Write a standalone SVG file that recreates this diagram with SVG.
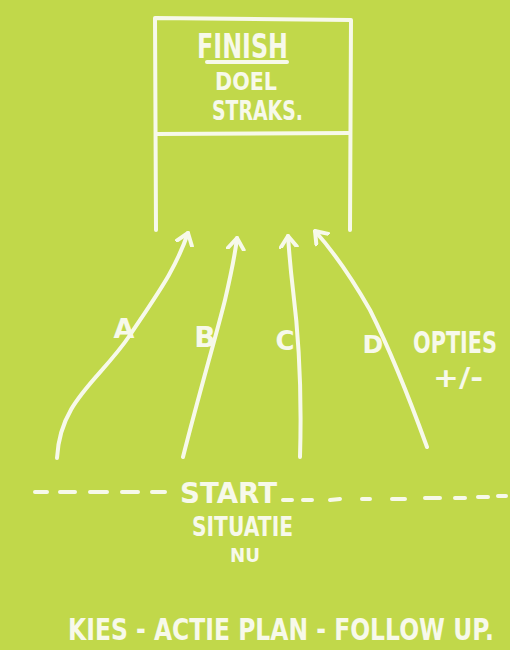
<svg xmlns="http://www.w3.org/2000/svg" width="510" height="650" viewBox="0 0 510 650">
<style>
.ln{fill:none;stroke:#f7f9ea;stroke-width:4;stroke-linecap:round;stroke-linejoin:round}
.t{fill:#f7f9ea;font-family:"DejaVu Sans","Liberation Sans",sans-serif;font-weight:bold}
</style>
<defs>
<marker id="ah" viewBox="-12 -10 14 20" refX="0" refY="0" markerWidth="14" markerHeight="20" markerUnits="userSpaceOnUse" orient="auto">
<path d="M-11,-8 L0,0 L-11,8" fill="none" stroke="#f7f9ea" stroke-width="4" stroke-linecap="round" stroke-linejoin="round"/>
</marker>
</defs>
<rect width="510" height="650" fill="#c1d84a"/>
<g id="finish">
<path class="ln" d="M156,230 L155,18 L351,20 L350,230"/>
<path class="ln" d="M156,134 L350,133"/>
<text class="t" x="197" y="58" font-size="34" textLength="91" lengthAdjust="spacingAndGlyphs">FINISH</text>
<path class="ln" d="M207,62 L287,62"/>
<text class="t" x="215" y="90" font-size="24" textLength="62" lengthAdjust="spacingAndGlyphs">DOEL</text>
<text class="t" x="212" y="120" font-size="26" textLength="91" lengthAdjust="spacingAndGlyphs">STRAKS.</text>
</g>
<g id="connectors">
<path class="ln" marker-end="url(#ah)" d="M57,458 C60,400 100,380 130,335 C160,290 175,270 188,233"/>
<path class="ln" marker-end="url(#ah)" d="M183,457 C200,390 215,340 225,300 C232,270 235,255 237,238"/>
<path class="ln" marker-end="url(#ah)" d="M300,457 C302,390 298,330 293,290 C290,265 289,250 288,236"/>
<path class="ln" marker-end="url(#ah)" d="M427,447 C410,400 390,350 370,310 C350,275 332,250 315,231"/>
</g>
<g id="labels">
<text class="t" x="124" y="338" font-size="27" text-anchor="middle">A</text>
<text class="t" x="205" y="347" font-size="28" text-anchor="middle">B</text>
<text class="t" x="285" y="350" font-size="26" text-anchor="middle">C</text>
<text class="t" x="373" y="353" font-size="25" text-anchor="middle">D</text>
<text class="t" transform="translate(413,353) scale(0.7,1)" x="0" y="0" font-size="30" textLength="120" lengthAdjust="spacingAndGlyphs">OPTIES</text>
<text class="t" x="433" y="387" font-size="26" textLength="50" lengthAdjust="spacingAndGlyphs">+/-</text>
</g>
<g id="start">
<path class="ln" stroke-width="3.5" d="M35,492 L47,492 M60,492 L75,492 M90,492 L107,492 M122,492 L138,492 M152,492 L165,492"/>
<path class="ln" stroke-width="3.5" d="M283,500 L292,500 M303,500 L312,500 M330,500 L340,499 M362,499 L370,499 M392,499 L405,499 M425,498 L440,498 M455,498 L465,498 M478,497 L488,497 M498,496 L506,496"/>
<text class="t" x="180" y="503" font-size="29" textLength="97" lengthAdjust="spacingAndGlyphs">START</text>
<text class="t" x="192" y="536" font-size="26" textLength="101" lengthAdjust="spacingAndGlyphs">SITUATIE</text>
<text class="t" x="230" y="562" font-size="19" textLength="30" lengthAdjust="spacingAndGlyphs">NU</text>
</g>
<text class="t" transform="translate(68,640) scale(0.75,1)" x="0" y="0" font-size="30" textLength="568" lengthAdjust="spacingAndGlyphs">KIES - ACTIE PLAN - FOLLOW UP.</text>
</svg>
